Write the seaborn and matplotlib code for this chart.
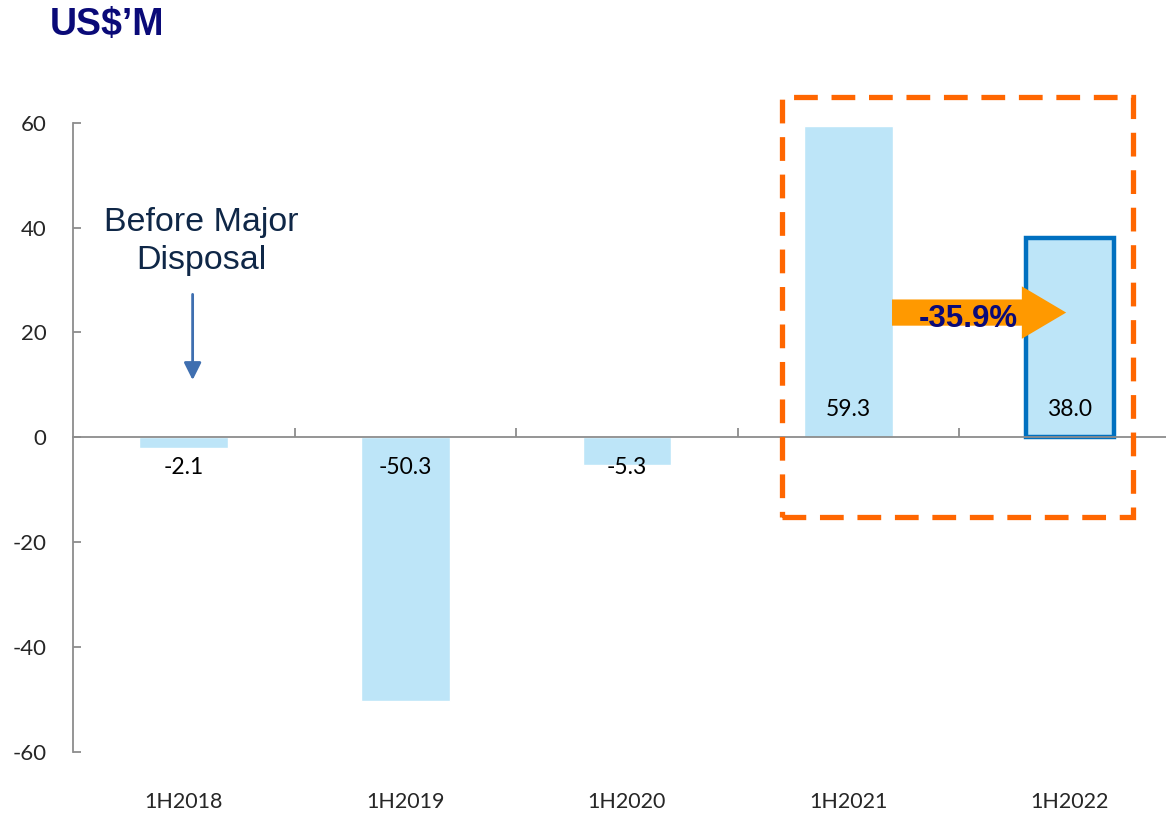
import matplotlib
matplotlib.use('Agg')
import matplotlib.pyplot as plt
import matplotlib.patches as mpatches
import seaborn as sns
import pandas as pd

# data
periods = ['1H2018', '1H2019', '1H2020', '1H2021', '1H2022']
values = [-2.1, -50.3, -5.3, 59.3, 38.0]
change_label = '-35.9%'
unit_label = 'US$\u2019M'
note_label = 'Before Major\nDisposal'

df = pd.DataFrame({'period': periods, 'value': values})

sns.set_theme(style='white')
plt.rcParams['font.family'] = ['Lato', 'DejaVu Sans']
plt.rcParams['axes.unicode_minus'] = False

bar_color = '#BDE5F8'
axis_grey = '#8C8C8C'
navy = '#0A0A78'

fig = plt.figure(figsize=(11.66, 8.14), dpi=100)
ax = fig.add_axes([0.0626, 0.0762, 0.950, 0.773])

sns.barplot(data=df, x='period', y='value', color=bar_color, saturation=1,
            width=0.4, ax=ax)

# highlight the latest bar
last = ax.patches[len(periods) - 1]
last.set_edgecolor('#0070C0')
last.set_linewidth(3.2)

ax.set_ylim(-60, 60)
ax.set_xlim(-0.5, 4.5)
ax.set_yticks(range(-60, 61, 20))
ax.set_xlabel('')
ax.set_ylabel('')

# spines: y axis on the left, x axis through zero
for s in ['top', 'right']:
    ax.spines[s].set_visible(False)
ax.spines['left'].set_color(axis_grey)
ax.spines['left'].set_linewidth(1.3)
ax.spines['bottom'].set_position(('data', 0))
ax.spines['bottom'].set_color(axis_grey)
ax.spines['bottom'].set_linewidth(1.3)
ax.spines['bottom'].set_zorder(5)

ax.tick_params(axis='y', direction='in', length=6, width=1.3, color=axis_grey,
               labelsize=16, pad=19, left=True)

ax.set_xticks([0.5, 1.5, 2.5, 3.5], minor=True)
ax.tick_params(axis='x', which='minor', direction='in', length=6.5, width=1.3,
               color=axis_grey, bottom=True)
ax.tick_params(axis='x', which='major', length=0, labelsize=15.5, pad=255)

# value labels near the zero line
for i, v in enumerate(values):
    off = 20 if v > 0 else -22
    ax.annotate(f'{v:.1f}', xy=(i, 0), xytext=(0, off), textcoords='offset points',
                ha='center', va='center', fontsize=16.5, color='black')

# unit title
fig.text(50 / 1166, 1 - 25 / 814, unit_label, fontsize=27, fontweight='bold',
         color=navy, family=['Liberation Sans', 'DejaVu Sans'], ha='left', va='center')

# note with arrow over first bar
ax.text(0.08, 37.4, note_label, ha='center', va='center', fontsize=24.5,
        color='#0F2747', family=['Liberation Sans', 'DejaVu Sans'], linespacing=1.3)
ax.annotate('', xy=(0.04, 10.4), xytext=(0.04, 27.8),
            arrowprops=dict(arrowstyle='-|>', color='#3F6FB0', lw=2,
                            mutation_scale=26))

# dashed highlight box
box = mpatches.Rectangle((2.70, -15.2), 1.585, 80.1, fill=False,
                         edgecolor='#FF6600', linewidth=3.8,
                         linestyle=(0, (4.5, 2.6)), clip_on=False, zorder=6)
ax.add_patch(box)

# growth arrow
arrow = mpatches.FancyArrow(3.197, 23.8, 0.786, 0, width=5.0, head_width=10.0,
                            head_length=0.2, length_includes_head=True,
                            color='#FF9900', linewidth=0, zorder=7)
ax.add_patch(arrow)
ax.text(3.54, 22.6, change_label, ha='center', va='center', fontsize=22.5,
        fontweight='bold', color=navy, family=['Liberation Sans', 'DejaVu Sans'],
        zorder=8)

fig.savefig('out.png', dpi=100)
